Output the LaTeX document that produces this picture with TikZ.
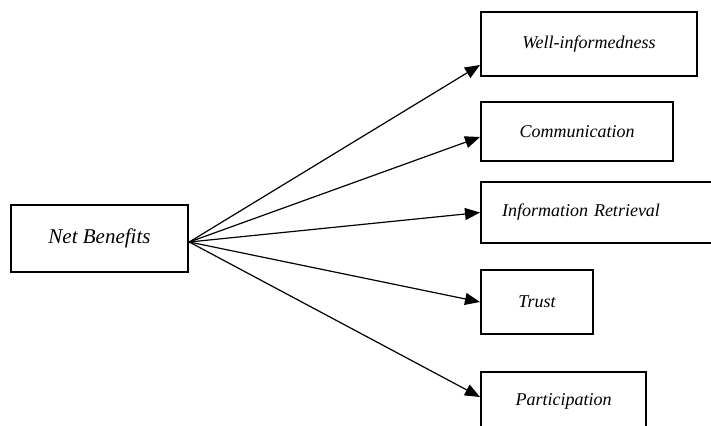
\documentclass[tikz,border=0pt]{standalone}
\usepackage{fontspec}
\setmainfont{Liberation Serif}
\usetikzlibrary{arrows.meta}
\begin{document}
\begin{tikzpicture}[x=1pt,y=-1pt,
  box/.style={draw,line width=2pt,rectangle,inner sep=0pt,font=\fontsize{18}{21}\selectfont\itshape},
  arr/.style={line width=1.2pt,-{Triangle[length=15pt,width=12pt]}}]
\useasboundingbox (0,0) rectangle (711,425);
\clip (0,0) rectangle (711,425);
\node[box,line width=2.5pt,minimum width=177,minimum height=67,font=\fontsize{21}{25}\selectfont\itshape] (nb) at (99.5,238.5) {Net Benefits};
\node[box,minimum width=216,minimum height=64] (wi) at (589,44) {Well-informedness};
\node[box,minimum width=192,minimum height=59] (co) at (577,131.5) {Communication};
\node[box,text width=192,inner xsep=21,minimum height=61,align=left] (ir) at (598,212.5) {Information Retrieval};
\node[box,minimum width=112,minimum height=64] (tr) at (537,302) {Trust};
\node[box,minimum width=165,minimum height=58] (pa) at (563.5,401) {Participation};
\draw[arr] ([yshift=-3.5pt]nb.east) -- ([yshift=-21pt]wi.west);
\draw[arr] ([yshift=-3.5pt]nb.east) -- ([yshift=-5.5pt]co.west);
\draw[arr] ([yshift=-3.5pt]nb.east) -- (ir.west);
\draw[arr] ([yshift=-3.5pt]nb.east) -- (tr.west);
\draw[arr] ([yshift=-3.5pt]nb.east) -- ([yshift=4pt]pa.west);
\end{tikzpicture}
\end{document}
